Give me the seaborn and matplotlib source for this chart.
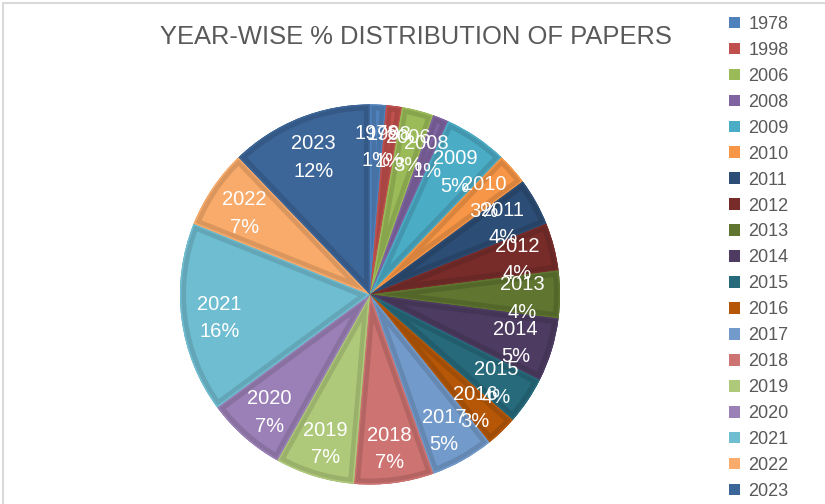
import matplotlib
matplotlib.use("Agg")
import matplotlib.pyplot as plt
from matplotlib.patches import Wedge, Patch
from matplotlib.lines import Line2D
import numpy as np
import seaborn as sns

# Papers per publication year
years = ["1978", "1998", "2006", "2008", "2009", "2010", "2011", "2012", "2013",
         "2014", "2015", "2016", "2017", "2018", "2019", "2020", "2021", "2022", "2023"]
papers = [1, 1, 2, 1, 4, 2, 3, 3, 3, 4, 3, 2, 4, 5, 5, 5, 12, 5, 9]

slice_colors = ["#4F81BD", "#C0504D", "#9BBB59", "#8064A2", "#4BACC6", "#F79646",
                "#2C4D75", "#772C2A", "#5F7530", "#4D3B62", "#276A7C", "#B65708",
                "#729ACA", "#CD7371", "#AFC97A", "#9A80B6", "#6FBDD1", "#F9AB6B",
                "#3C6598"]

title_text = "YEAR-WISE % DISTRIBUTION OF PAPERS"

sns.set_theme(style="white")
plt.rcParams["font.family"] = ["Liberation Sans", "DejaVu Sans"]
palette = sns.color_palette(slice_colors)

W, H, DPI = 825, 504, 100
fig = plt.figure(figsize=(W / DPI, H / DPI), dpi=DPI)
fig.patch.set_facecolor("white")

# pie area: centre (370, 294.5) px, radius 190 px
cx, cy, R = 370, 294.5, 190
ax = fig.add_axes([(cx - R) / W, (H - cy - R) / H, 2 * R / W, 2 * R / H])

total = sum(papers)
wedges, _ = ax.pie(papers, colors=palette, startangle=90, counterclock=False,
                   radius=1.0, center=(0, 0), wedgeprops=dict(linewidth=0))
ax.set_xlim(-1, 1)
ax.set_ylim(-1, 1)
ax.set_aspect("auto")
ax.axis("off")

# bevel-like inner band along each slice edge
px = 72.0 / DPI
for w, col in zip(wedges, palette):
    dark = tuple(np.clip(np.array(col) * 0.88, 0, 1))
    band = Wedge(w.center, w.r, w.theta1, w.theta2, facecolor="none",
                 edgecolor=dark, linewidth=12 * px, transform=ax.transData)
    band.set_clip_path(w)
    ax.add_patch(band)
    rim = Wedge(w.center, w.r, w.theta1, w.theta2, facecolor="none",
                edgecolor=col, linewidth=3 * px, transform=ax.transData)
    rim.set_clip_path(w)
    ax.add_patch(rim)

# data labels: year and share, inside each slice (nudged slightly down)
drop = 4.0 / R
for w, yr, v in zip(wedges, years, papers):
    mid = np.deg2rad((w.theta1 + w.theta2) / 2)
    r = 0.8
    ax.text(r * np.cos(mid), r * np.sin(mid) - drop, f"{yr}\n{v / total:.0%}",
            ha="center", va="center", color="white", fontsize=14.5,
            linespacing=1.55, clip_on=False)

fig.text(416 / W, 1 - 37 / H, title_text, ha="center", va="center",
         fontsize=18.4, color="#595959")

handles = [Patch(facecolor=c, edgecolor="none") for c in palette]
fig.legend(handles, years, loc="upper left", bbox_to_anchor=(729 / W, 1 - 16 / H),
           frameon=False, fontsize=13, handlelength=0.62, handleheight=0.62,
           handletextpad=0.45, labelspacing=0.495, borderpad=0, borderaxespad=0,
           labelcolor="#595959")

# chart-area border (top and left edges)
bc = "#D9D9D9"
fig.add_artist(Line2D([2.5 / W, 2.5 / W], [0, 1 - 2.5 / H], color=bc, lw=1.5,
                      transform=fig.transFigure))
fig.add_artist(Line2D([2.5 / W, 1], [1 - 2.5 / H, 1 - 2.5 / H], color=bc, lw=1.5,
                      transform=fig.transFigure))

fig.savefig("out.png", dpi=DPI)
